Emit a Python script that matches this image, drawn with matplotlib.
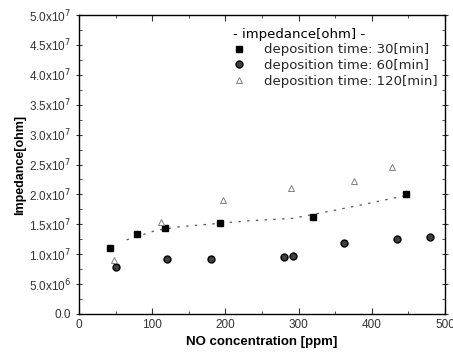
import matplotlib.pyplot as plt
from matplotlib.ticker import MultipleLocator, FuncFormatter

plt.rcParams['font.family'] = ['Liberation Sans', 'DejaVu Sans']

# NO concentration [ppm] and impedance [ohm]
x_30 = [42, 79, 117, 193, 320, 447]
y_30 = [1.10e7, 1.33e7, 1.44e7, 1.53e7, 1.63e7, 2.01e7]
x_60 = [50, 120, 180, 280, 292, 362, 434, 480]
y_60 = [0.78e7, 0.92e7, 0.92e7, 0.95e7, 0.975e7, 1.18e7, 1.25e7, 1.28e7]
x_120 = [48, 112, 197, 290, 376, 428]
y_120 = [0.91e7, 1.54e7, 1.90e7, 2.11e7, 2.23e7, 2.45e7]
# dotted trend curve through the 30 min points
x_fit = [65, 106, 138, 234, 292, 343, 384, 411, 450]
y_fit = [1.24e7, 1.40e7, 1.46e7, 1.56e7, 1.60e7, 1.72e7, 1.82e7, 1.89e7, 1.99e7]

fig = plt.figure(figsize=(4.53, 3.6), dpi=100)
ax = fig.add_axes([79 / 453, 46 / 360, 366 / 453, 299 / 360])

ax.plot(x_fit, y_fit, linestyle=(0, (2, 5)), color='0.35', lw=0.9)
ax.plot(x_30, y_30, 's', color='black', markersize=5, label='deposition time: 30[min]')
ax.plot(x_60, y_60, 'o', color='0.25', markeredgecolor='black', markersize=5,
        label='deposition time: 60[min]')
ax.plot(x_120, y_120, '^', mfc='white', mec='0.5', markersize=4, mew=0.7,
        label='deposition time: 120[min]')

ax.set_xlim(0, 500)
ax.set_ylim(0, 5e7)
ax.xaxis.set_major_locator(MultipleLocator(100))
ax.xaxis.set_minor_locator(MultipleLocator(50))
ax.yaxis.set_major_locator(MultipleLocator(5e6))
ax.yaxis.set_minor_locator(MultipleLocator(2.5e6))


def yfmt(v, pos):
    if v == 0:
        return '0.0'
    m = v / 1e7
    if m < 1:
        return r'%.1fx10$^6$' % (v / 1e6)
    return r'%.1fx10$^7$' % m


ax.yaxis.set_major_formatter(FuncFormatter(yfmt))
ax.tick_params(which='both', direction='in', top=True, right=True, labelsize=8.5,
               colors='0.2')
ax.tick_params(axis='y', which='major', direction='inout', length=6)
ax.tick_params(which='major', length=4)
ax.tick_params(which='minor', length=2)
for s in ax.spines.values():
    s.set_linewidth(1.0)

ax.set_xlabel('NO concentration [ppm]', fontsize=9.5, fontweight='bold')
ax.set_ylabel('Impedance[ohm]', fontsize=9, fontweight='bold', labelpad=2)

leg = ax.legend(title='- impedance[ohm] -', frameon=False, loc='upper right',
                bbox_to_anchor=(0.995, 0.975), prop={'family': 'DejaVu Sans', 'size': 9.5},
                handlelength=1.0, handletextpad=1.4, labelspacing=0.2,
                borderaxespad=0.2, borderpad=0.2)
leg.get_title().set_fontfamily('DejaVu Sans')
leg.get_title().set_fontsize(9.5)
leg._legend_box.align = 'left'
for t in leg.get_texts():
    t.set_color('0.15')

fig.savefig('out.png', dpi=100)
